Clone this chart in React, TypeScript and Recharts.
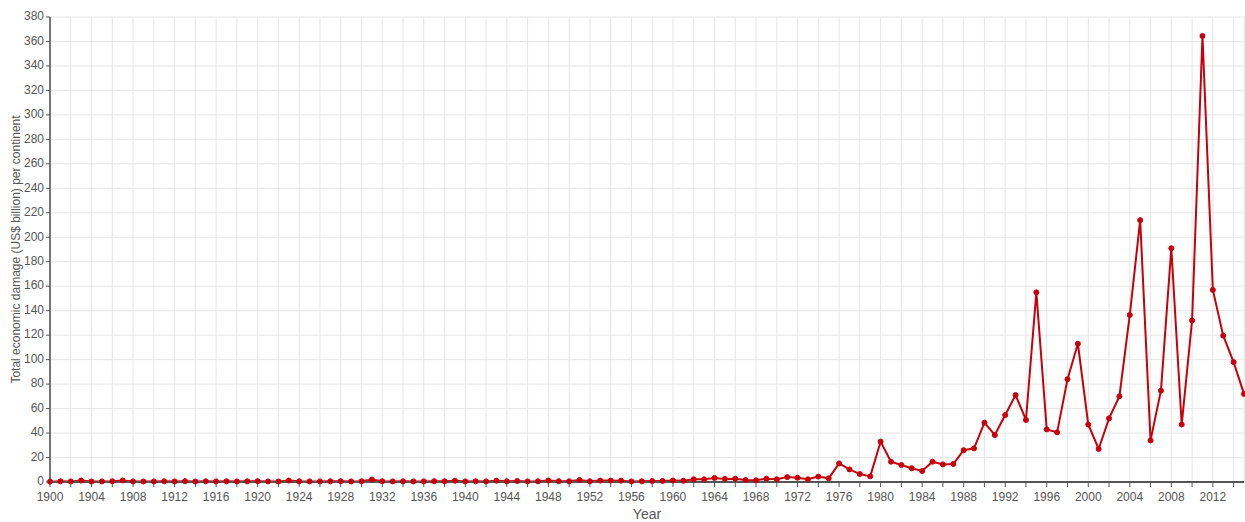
import { LineChart, Line, XAxis, YAxis, CartesianGrid, Label } from 'recharts';

const years = [
  1900, 1901, 1902, 1903, 1904, 1905, 1906, 1907, 1908, 1909,
  1910, 1911, 1912, 1913, 1914, 1915, 1916, 1917, 1918, 1919,
  1920, 1921, 1922, 1923, 1924, 1925, 1926, 1927, 1928, 1929,
  1930, 1931, 1932, 1933, 1934, 1935, 1936, 1937, 1938, 1939,
  1940, 1941, 1942, 1943, 1944, 1945, 1946, 1947, 1948, 1949,
  1950, 1951, 1952, 1953, 1954, 1955, 1956, 1957, 1958, 1959,
  1960, 1961, 1962, 1963, 1964, 1965, 1966, 1967, 1968, 1969,
  1970, 1971, 1972, 1973, 1974, 1975, 1976, 1977, 1978, 1979,
  1980, 1981, 1982, 1983, 1984, 1985, 1986, 1987, 1988, 1989,
  1990, 1991, 1992, 1993, 1994, 1995, 1996, 1997, 1998, 1999,
  2000, 2001, 2002, 2003, 2004, 2005, 2006, 2007, 2008, 2009,
  2010, 2011, 2012, 2013, 2014, 2015,
];

// total economic damage, US$ billion
const damage = [
  0.3, 0.6, 0.5, 1.2, 0.4, 0.5, 0.6, 1.3, 0.5, 0.4,
  0.5, 0.6, 0.5, 0.7, 0.4, 0.6, 0.5, 0.6, 0.5, 0.6,
  0.7, 0.5, 0.4, 1.2, 0.6, 0.5, 0.5, 0.6, 0.7, 0.5,
  0.6, 2.0, 0.6, 0.5, 0.6, 0.5, 0.5, 0.7, 0.6, 1.0,
  0.5, 0.6, 0.5, 1.1, 0.6, 0.8, 0.5, 0.6, 1.2, 0.7,
  0.6, 1.6, 0.6, 1.2, 1.2, 1.1, 0.5, 0.6, 0.8, 0.9,
  1.2, 1.0, 2.2, 2.2, 3.3, 2.5, 2.7, 1.6, 1.4, 2.7,
  2.2, 4.0, 3.5, 2.2, 4.4, 3.0, 15.2, 10.3, 6.5, 4.6,
  33, 16.6, 13.9, 11.2, 9, 16.6, 14.4, 14.7, 26, 27.5,
  48.5, 38.4, 54.7, 71, 50.7, 155, 43, 40.6, 84, 113,
  47, 27, 52, 70, 136.5, 214, 34, 74.6, 191, 47,
  132, 364.5, 157, 119.6, 98, 72,
];

const xTicks = [
  1900, 1902, 1904, 1906, 1908, 1910, 1912, 1914, 1916, 1918,
  1920, 1922, 1924, 1926, 1928, 1930, 1932, 1934, 1936, 1938,
  1940, 1942, 1944, 1946, 1948, 1950, 1952, 1954, 1956, 1958,
  1960, 1962, 1964, 1966, 1968, 1970, 1972, 1974, 1976, 1978,
  1980, 1982, 1984, 1986, 1988, 1990, 1992, 1994, 1996, 1998,
  2000, 2002, 2004, 2006, 2008, 2010, 2012, 2014,
];

const yTicks = [
  0, 20, 40, 60, 80, 100, 120, 140, 160, 180,
  200, 220, 240, 260, 280, 300, 320, 340, 360, 380,
];

const data = years.map((year, i) => ({ year, damage: damage[i] }));

const font = "'Liberation Sans', Arial, sans-serif";
const red = '#c8000c';

export default function App() {
  return (
    <div style={{ position: 'absolute', left: 0, top: 0, width: 1245, height: 522, background: '#fff' }}>
      <LineChart width={1245} height={522} data={data} margin={{ top: 17, right: 1, left: 0, bottom: 0 }}>
        <CartesianGrid stroke="#e6e6e6" strokeWidth={1} />
        <XAxis
          dataKey="year"
          type="number"
          domain={[1900, 2015]}
          ticks={xTicks}
          interval={0}
          tickFormatter={(v) => (v % 4 === 0 ? String(v) : '')}
          height={40}
          tickSize={5}
          axisLine={{ stroke: '#555', strokeWidth: 2 }}
          tickLine={{ stroke: '#555' }}
          tick={{ fill: '#555', fontSize: 12, fontFamily: font, dy: 3 }}
        >
          <Label value="Year" position="insideBottom" offset={3} style={{ fill: '#555', fontSize: 14, fontFamily: font }} />
        </XAxis>
        <YAxis
          type="number"
          domain={[0, 380]}
          ticks={yTicks}
          interval={0}
          width={50}
          tickSize={4}
          axisLine={{ stroke: '#777', strokeWidth: 2 }}
          tickLine={{ stroke: '#555' }}
          tick={{ fill: '#555', fontSize: 12, fontFamily: font, dy: -1 }}
        >
          <Label
            value="Total economic damage (US$ billion) per continent"
            angle={-90}
            position="insideLeft"
            offset={16}
            style={{ textAnchor: 'middle', fill: '#555', fontSize: 12, fontFamily: font }}
          />
        </YAxis>
        <Line
          type="linear"
          dataKey="damage"
          stroke={red}
          strokeWidth={2}
          dot={{ r: 2.5, fill: red, stroke: red, strokeWidth: 1 }}
          isAnimationActive={false}
        />
      </LineChart>
    </div>
  );
}
